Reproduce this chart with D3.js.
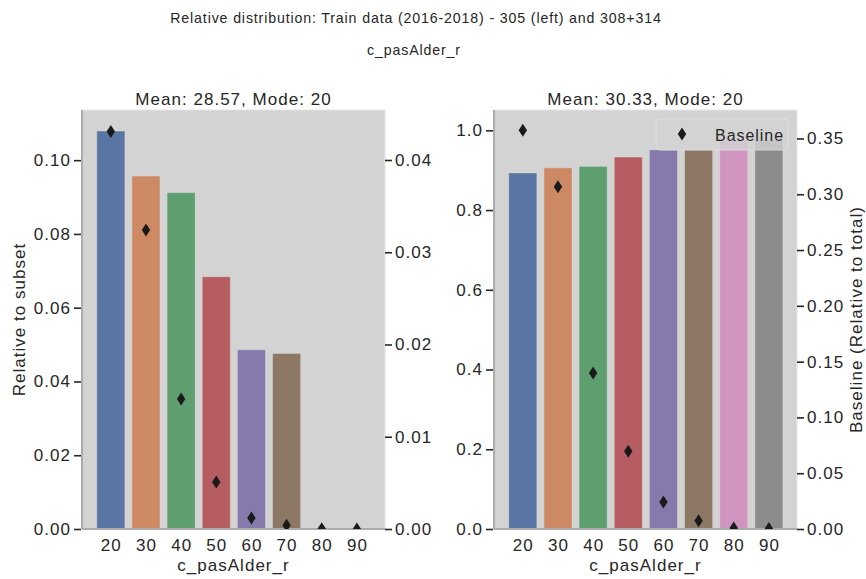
<!DOCTYPE html>
<html lang="en">
<head>
<meta charset="UTF-8">
<title>Relative distribution</title>
<script src="https://d3js.org/d3.v7.min.js"></script>
<style>
  body { margin: 0; background: #fff; }
  text { font-family: "Liberation Sans", Arial, sans-serif; fill: #262626; letter-spacing: 0.06em; }
  .tick-label { font-size: 17px; }
  .ax-title { font-size: 17px; }
  .ax-label { font-size: 17px; }
  .sup { font-size: 14.2px; }
</style>
</head>
<body>
<svg id="chart" width="866" height="579"></svg>
<script>
// categories and values
const categories = ["20", "30", "40", "50", "60", "70", "80", "90"];
const leftSubset = [0.1079, 0.0957, 0.0912, 0.0684, 0.0486, 0.0476, 0, 0];
const leftBaseline = [0.0431, 0.0324, 0.0141, 0.0051, 0.0012, 0.0004, 0.00003, 0.00001];
const rightSubset = [0.893, 0.906, 0.9095, 0.933, 0.951, 0.951, 0.975, 0.975];
const rightBaseline = [0.3573, 0.3067, 0.1397, 0.0697, 0.0242, 0.0075, 0.0010, 0.0005];

const leftTicks = [0, 0.02, 0.04, 0.06, 0.08, 0.10];
const leftTwinTicks = [0, 0.01, 0.02, 0.03, 0.04];
const rightTicks = [0, 0.2, 0.4, 0.6, 0.8, 1.0];
const rightTwinTicks = [0, 0.05, 0.10, 0.15, 0.20, 0.25, 0.30, 0.35];

// seaborn "deep", desaturated like barplot does
const colors = ["#5975a4", "#cc8963", "#5f9e6e", "#b55d60", "#857aab", "#8d7866", "#d095bf", "#8c8c8c"];

const svg = d3.select("#chart");
const plotTop = 110, plotBottom = 529;

svg.append("text").attr("class", "sup")
    .attr("x", 416).attr("y", 23).attr("text-anchor", "middle")
    .text("Relative distribution: Train data (2016-2018) - 305 (left) and 308+314");
svg.append("text").attr("class", "sup")
    .attr("x", 414).attr("y", 55).attr("text-anchor", "middle")
    .text("c_pasAlder_r");

function panel(opt) {
    const g = svg.append("g");
    const x = d3.scaleLinear().domain([-0.82, 7.8]).range([opt.left, opt.right]);
    const y = d3.scaleLinear().domain([0, opt.yMax]).range([plotBottom, plotTop]);
    const y2 = d3.scaleLinear().domain([0, opt.y2Max]).range([plotBottom, plotTop]);

    const clipId = "clip" + opt.id;
    svg.append("clipPath").attr("id", clipId)
        .append("rect").attr("x", opt.left).attr("y", plotTop)
        .attr("width", opt.right - opt.left).attr("height", plotBottom - plotTop);

    g.append("rect")
        .attr("x", opt.left).attr("y", plotTop)
        .attr("width", opt.right - opt.left).attr("height", plotBottom - plotTop)
        .attr("fill", "#d3d3d3");

    const bw = 0.8;
    g.append("g").selectAll("rect")
        .data(opt.bars)
        .enter().append("rect")
        .attr("x", (d, i) => x(i - bw / 2))
        .attr("width", x(bw) - x(0))
        .attr("y", d => y(d))
        .attr("height", d => plotBottom - y(d))
        .attr("fill", (d, i) => colors[i])
        .attr("stroke", "#e4e4e4")
        .attr("stroke-opacity", 0.4)
        .attr("stroke-width", 1);

    // spines
    g.append("line").attr("x1", opt.right).attr("x2", opt.right).attr("y1", plotTop).attr("y2", plotBottom)
        .attr("stroke", "#e6e6e6").attr("stroke-width", 1.2);
    g.append("line").attr("x1", opt.left).attr("x2", opt.right).attr("y1", plotTop).attr("y2", plotTop)
        .attr("stroke", "#e6e6e6").attr("stroke-width", 1.2);
    g.append("line").attr("x1", opt.left).attr("x2", opt.left).attr("y1", plotTop).attr("y2", plotBottom)
        .attr("stroke", "#ababab").attr("stroke-width", 2);
    g.append("line").attr("x1", opt.left).attr("x2", opt.right).attr("y1", plotBottom).attr("y2", plotBottom)
        .attr("stroke", "#ababab").attr("stroke-width", 2);

    // diamonds on the twin axis
    const diamond = "M0,-6.5 L4.2,0 L0,6.5 L-4.2,0 Z";
    g.append("g").attr("clip-path", "url(#" + clipId + ")")
        .selectAll("path")
        .data(opt.diamonds)
        .enter().append("path")
        .attr("d", diamond)
        .attr("transform", (d, i) => `translate(${x(i)},${y2(d)})`)
        .attr("fill", "#1a1a1a");

    // left axis
    const ax = g.append("g").attr("transform", `translate(${opt.left - 1},0)`)
        .call(d3.axisLeft(y).tickValues(opt.ticks).tickFormat(d3.format(opt.fmt)).tickSize(7).tickPadding(3));
    ax.select(".domain").remove();
    ax.selectAll(".tick line").attr("stroke", "#262626").attr("stroke-width", 1.6);
    ax.selectAll(".tick text").attr("class", "tick-label").attr("fill", "#262626").style("font-size", "17px");

    const ax2 = g.append("g").attr("transform", `translate(${opt.right},0)`)
        .call(d3.axisRight(y2).tickValues(opt.ticks2).tickFormat(d3.format(opt.fmt2)).tickSize(7).tickPadding(3));
    ax2.select(".domain").remove();
    ax2.selectAll(".tick line").attr("stroke", "#262626").attr("stroke-width", 1.6);
    ax2.selectAll(".tick text").attr("class", "tick-label").attr("fill", "#262626").style("font-size", "17px");

    const axb = g.append("g").attr("transform", `translate(0,${plotBottom})`)
        .call(d3.axisBottom(x).tickValues(d3.range(categories.length))
            .tickFormat(i => categories[i]).tickSize(0).tickPadding(10));
    axb.select(".domain").remove();
    axb.selectAll(".tick text").attr("class", "tick-label").attr("fill", "#262626").style("font-size", "17px");

    const cx = (opt.left + opt.right) / 2;
    g.append("text").attr("class", "ax-label").attr("x", cx).attr("y", 571)
        .attr("text-anchor", "middle").text("c_pasAlder_r");
    g.append("text").attr("class", "ax-title").attr("x", cx).attr("y", 105)
        .attr("text-anchor", "middle").text(opt.title);

    return { g, x, y, y2 };
}

const p1 = panel({
    id: 1, left: 82, right: 385, yMax: 0.1136, y2Max: 0.04542,
    bars: leftSubset, diamonds: leftBaseline,
    ticks: leftTicks, ticks2: leftTwinTicks, fmt: ".2f", fmt2: ".2f",
    title: "Mean: 28.57, Mode: 20"
});
const p2 = panel({
    id: 2, left: 494, right: 797, yMax: 1.051, y2Max: 0.3755,
    bars: rightSubset, diamonds: rightBaseline,
    ticks: rightTicks, ticks2: rightTwinTicks, fmt: ".1f", fmt2: ".2f",
    title: "Mean: 30.33, Mode: 20"
});

svg.append("text").attr("class", "ax-label")
    .attr("transform", `translate(25,${(plotTop + plotBottom) / 2}) rotate(-90)`)
    .attr("text-anchor", "middle").text("Relative to subset");
svg.append("text").attr("class", "ax-label")
    .attr("transform", `translate(862,${(plotTop + plotBottom) / 2}) rotate(-90)`)
    .attr("text-anchor", "middle").text("Baseline (Relative to total)");

// legend
const lg = svg.append("g").attr("transform", "translate(656,119)");
lg.append("rect").attr("width", 132).attr("height", 31).attr("rx", 4)
    .attr("fill", "#d3d3d3").attr("fill-opacity", 0.8)
    .attr("stroke", "#e2e2e2").attr("stroke-opacity", 0.8);
lg.append("path").attr("d", "M0,-6.5 L4.2,0 L0,6.5 L-4.2,0 Z")
    .attr("transform", "translate(26,15)").attr("fill", "#1a1a1a");
lg.append("text").attr("x", 59).attr("y", 21.5).style("font-size", "16px").text("Baseline");
</script>
</body>
</html>
